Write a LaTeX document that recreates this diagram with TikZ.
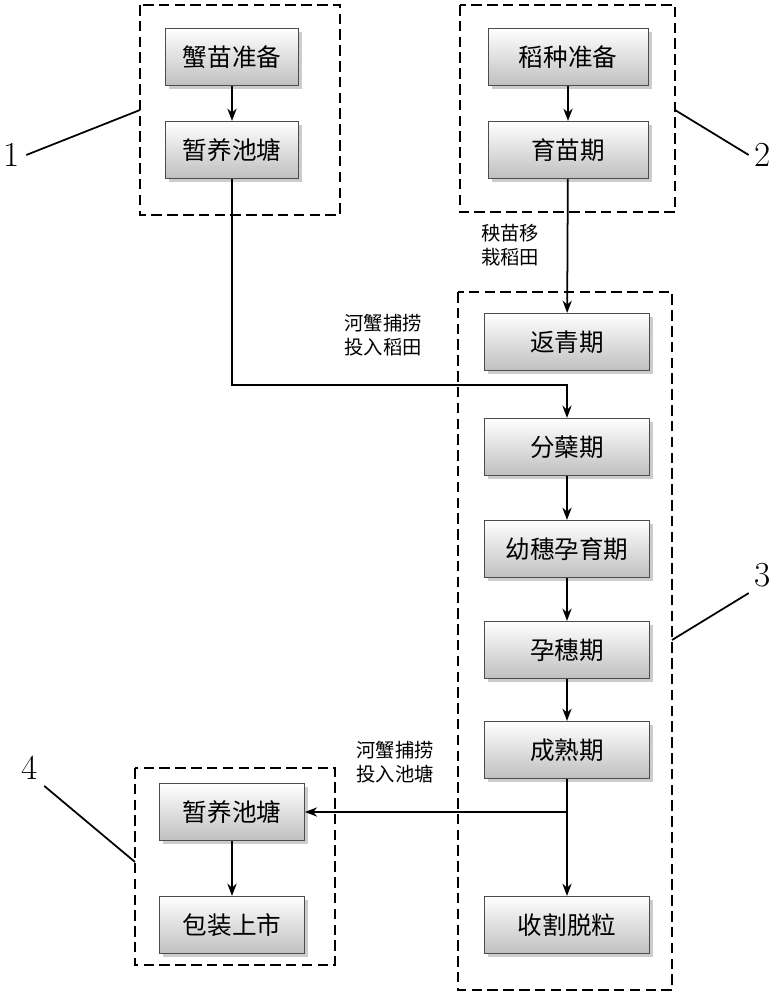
\documentclass[tikz,border=0pt]{standalone}
\usepackage{fontspec}
\newfontfamily\cjk{Noto Sans CJK SC}
\usetikzlibrary{shadows,arrows.meta}
\begin{document}
\begin{tikzpicture}[x=0.02cm,y=-0.02cm,font=\cjk,
  stage/.style={draw=black!70,top color=white,bottom color=black!25,minimum height=1.15cm,drop shadow={opacity=0.4,shadow xshift=2pt,shadow yshift=-2pt},font=\cjk\fontsize{14}{16}\selectfont},
  grp/.style={draw,dash pattern=on 6pt off 3pt,line width=1.2pt},
  flow/.style={-{Stealth[length=7pt]},line width=1pt},
  lbl/.style={font=\cjk\fontsize{11}{14}\selectfont,align=left},
  num/.style={font=\fontsize{20}{22}\selectfont}]
\useasboundingbox (0,0) rectangle (778,1000);
% groups
\draw[grp] (140,5) rectangle (340,215);
\draw[grp] (460,5) rectangle (675,212);
\draw[grp] (458,292) rectangle (672,990);
\draw[grp] (135,768) rectangle (335,965);
% boxes
\node[stage,minimum width=2.65cm] (xmzb) at (232,57) {蟹苗准备};
\node[stage,minimum width=2.65cm] (zyct1) at (232,150) {暂养池塘};
\node[stage,minimum width=3.2cm] (dzzb) at (568,57) {稻种准备};
\node[stage,minimum width=3.2cm] (ymq) at (568,150) {育苗期};
\node[stage,minimum width=3.3cm] (fqq) at (567,342) {返青期};
\node[stage,minimum width=3.3cm] (fnq) at (567,447) {分蘖期};
\node[stage,minimum width=3.3cm] (ysyy) at (567,549) {幼穗孕育期};
\node[stage,minimum width=3.3cm] (ysq) at (567,650) {孕穗期};
\node[stage,minimum width=3.3cm] (csq) at (567,750) {成熟期};
\node[stage,minimum width=3.3cm] (gtl) at (567,925) {收割脱粒};
\node[stage,minimum width=2.9cm] (zyct2) at (232,812) {暂养池塘};
\node[stage,minimum width=2.9cm] (bzss) at (232,925) {包装上市};
% arrows
\draw[flow] (xmzb) -- (zyct1);
\draw[flow] (dzzb) -- (ymq);
\draw[flow] (ymq) -- (fqq);
\coordinate (turn) at (232,385);
\coordinate (join) at (567,385);
\draw[flow] (zyct1) -- (turn) -- (join) -- (fnq);
\draw[flow] (fnq) -- (ysyy);
\draw[flow] (ysyy) -- (ysq);
\draw[flow] (ysq) -- (csq);
\draw[flow] (csq) -- (gtl);
\draw[flow] (zyct2) -- (bzss);
\coordinate (split) at (567,812);
\draw[flow] (split) -- (zyct2);
% labels
\node[lbl] at (510,245) {秧苗移\\栽稻田};
\node[lbl] at (383,335) {河蟹捕捞\\投入稻田};
\node[lbl] at (395,762) {河蟹捕捞\\投入池塘};
% numbers
\node[num] (n1) at (12,155) {1};
\node[num] (n2) at (763,155) {2};
\node[num] (n3) at (763,575) {3};
\node[num] (n4) at (30,768) {4};
\coordinate (g1) at (140,110);
\coordinate (g2) at (675,110);
\coordinate (g3) at (672,640);
\coordinate (g4) at (135,862);
\draw[line width=1pt] (n1.east) -- (g1);
\draw[line width=1pt] (n2.west) -- (g2);
\draw[line width=1pt] (n3.south west) -- (g3);
\draw[line width=1pt] (n4.south east) -- (g4);
\end{tikzpicture}
\end{document}
